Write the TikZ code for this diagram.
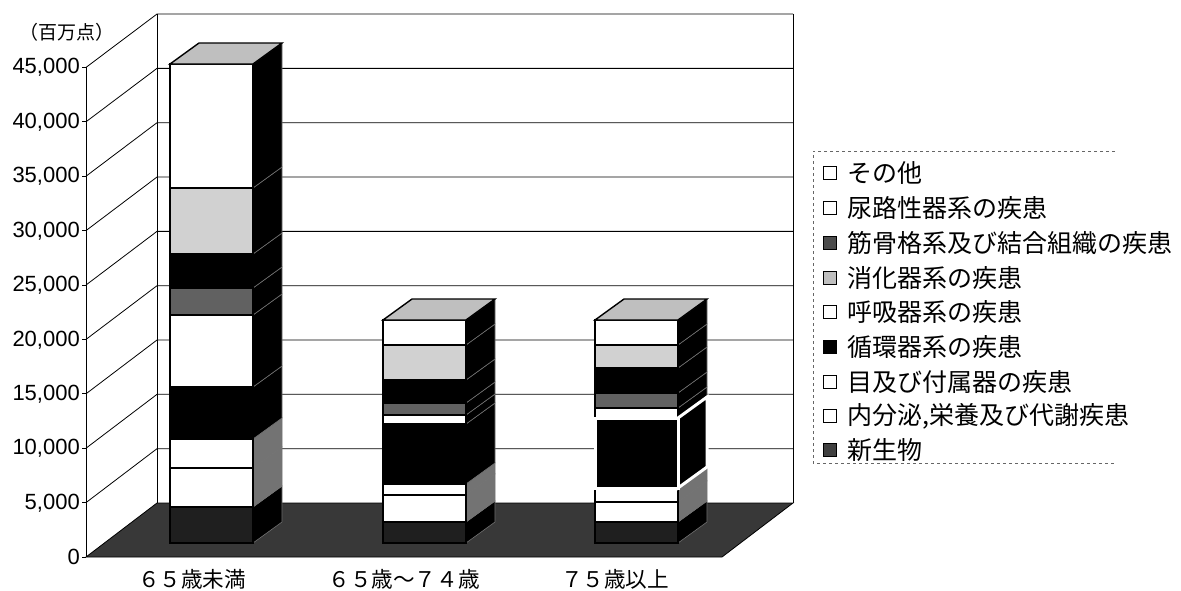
\documentclass[tikz,border=0pt]{standalone}
\usepackage{fontspec}
\setmainfont{Liberation Sans}
\newfontfamily\jpfont{Noto Sans CJK JP}
\usepackage{tikz}
\usetikzlibrary{positioning,calc}

% one segment of a bar: x, y bottom, y top, front style, side style
\newcommand{\barseg}[5]{%
  \draw[#5] (#1+83,#2) -- (#1+112,#2-21) -- (#1+112,#3-21) -- (#1+83,#3) -- cycle;
  \draw[#4] (#1,#2) rectangle (#1+83,#3);
}
% top face of a bar: x, y top
\newcommand{\bartop}[2]{%
  \draw[topface] (#1,#2) -- (#1+29,#2-21) -- (#1+112,#2-21) -- (#1+83,#2) -- cycle;
}

\begin{document}
\begin{tikzpicture}[
    x=1pt, y=-1pt,
    gridline/.style = {black, line width=0.8pt},
    floor/.style = {draw=black, line width=0.8pt, fill=black!78},
    segwhite/.style = {draw=black, line width=1.4pt, fill=white},
    segblack/.style = {draw=black, line width=1.4pt, fill=black},
    segdark/.style = {draw=black, line width=1.4pt, fill=black!88},
    seglight/.style = {draw=black, line width=1.4pt, fill=black!18},
    segdot/.style = {draw=black, line width=1.4pt, fill=black!62},
    segring/.style = {draw=white, line width=3pt, fill=black},
    sideblack/.style = {draw=black!55, line width=0.6pt, fill=black},
    sidegray/.style = {draw=black!55, line width=0.6pt, fill=black!55},
    sidering/.style = {draw=white, line width=3pt, fill=black},
    topface/.style = {draw=black, line width=1.4pt, fill=black!25},
    ylab/.style = {anchor=east, inner sep=0pt, font=\fontsize{22}{26}\selectfont},
    catlab/.style = {inner sep=0pt, font=\jpfont\fontsize{21.6}{26}\selectfont},
    swatch/.style = {draw=black, line width=1pt, minimum size=13pt, inner sep=0pt},
    legtext/.style = {anchor=west, inner sep=0pt, font=\jpfont\fontsize{25}{30}\selectfont}
]
    \useasboundingbox (0,0) rectangle (1181,590);

    % Floor
    \draw[floor] (86,557) -- (722,557) -- (793,503) -- (157,503) -- cycle;

    % Walls and grid
    \foreach \k in {1,...,9}
        \draw[gridline] (86,557-54.4*\k) -- (157,503-54.33*\k) -- (793,503-54.33*\k);
    \draw[gridline] (157,14) -- (157,503);
    \draw[gridline] (793,14) -- (793,503);
    \draw[gridline] (86,557) -- (86,67);
    \foreach \k in {0,...,9}
        \draw[gridline] (82,557-54.4*\k) -- (86,557-54.4*\k);

    % Unit
    \node[inner sep=0pt, font=\jpfont\fontsize{19}{22}\selectfont] (unit) at (67,32) {（百万点）};

    % Y axis labels
    \node[ylab] (y45) at (80,67) {45,000};
    \node[ylab] (y40) at (80,122) {40,000};
    \node[ylab] (y35) at (80,176) {35,000};
    \node[ylab] (y30) at (80,231) {30,000};
    \node[ylab] (y25) at (80,285) {25,000};
    \node[ylab] (y20) at (80,340) {20,000};
    \node[ylab] (y15) at (80,394) {15,000};
    \node[ylab] (y10) at (80,448) {10,000};
    \node[ylab] (y5) at (80,503) {5,000};
    \node[ylab] (y0) at (80,557) {0};

    % Bar 1: under 65
    \barseg{170}{543}{507}{segdark}{sideblack}
    \barseg{170}{507}{468}{segwhite}{sidegray}
    \barseg{170}{468}{439}{segwhite}{sidegray}
    \barseg{170}{439}{387}{segblack}{sideblack}
    \barseg{170}{387}{315}{segwhite}{sideblack}
    \barseg{170}{315}{288}{segdot}{sideblack}
    \barseg{170}{288}{254}{segblack}{sideblack}
    \barseg{170}{254}{188}{seglight}{sideblack}
    \barseg{170}{188}{64}{segwhite}{sideblack}
    \bartop{170}{64}

    % Bar 2: 65 to 74
    \barseg{383}{543}{522}{segdark}{sideblack}
    \barseg{383}{522}{495}{segwhite}{sidegray}
    \barseg{383}{495}{484}{segwhite}{sidegray}
    \barseg{383}{484}{424}{segblack}{sideblack}
    \barseg{383}{424}{415}{segwhite}{sideblack}
    \barseg{383}{415}{403}{segdot}{sideblack}
    \barseg{383}{403}{380}{segblack}{sideblack}
    \barseg{383}{380}{345}{seglight}{sideblack}
    \barseg{383}{345}{320}{segwhite}{sideblack}
    \bartop{383}{320}

    % Bar 3: 75 and over
    \barseg{595}{543}{522}{segdark}{sideblack}
    \barseg{595}{522}{502}{segwhite}{sidegray}
    \barseg{595}{502}{488}{segwhite}{sidegray}
    \barseg{595}{418}{408}{segwhite}{sideblack}
    \barseg{595}{408}{393}{segdot}{sideblack}
    \barseg{595}{393}{368}{segblack}{sideblack}
    \barseg{595}{368}{345}{seglight}{sideblack}
    \barseg{595}{345}{320}{segwhite}{sideblack}
    \barseg{595}{488}{418}{segring}{sidering}
    \bartop{595}{320}

    % Category labels
    \node[catlab] (cat1) at (192,579) {６５歳未満};
    \node[catlab] (cat2) at (404,579) {６５歳～７４歳};
    \node[catlab] (cat3) at (615,579) {７５歳以上};

    % Legend
    \draw[black!60, dashed, line width=0.6pt] (1115,151) -- (813,151) -- (813,463) -- (1115,463);
    \node[swatch, fill=white] (sw1) at (830,173) {};
    \node[legtext, right=10pt of sw1] (leg1) {その他};
    \node[swatch, fill=white] (sw2) at (830,208) {};
    \node[legtext, right=10pt of sw2] (leg2) {尿路性器系の疾患};
    \node[swatch, fill=black!70] (sw3) at (830,243) {};
    \node[legtext, right=10pt of sw3] (leg3) {筋骨格系及び結合組織の疾患};
    \node[swatch, fill=black!25] (sw4) at (830,278) {};
    \node[legtext, right=10pt of sw4] (leg4) {消化器系の疾患};
    \node[swatch, fill=white] (sw5) at (830,312) {};
    \node[legtext, right=10pt of sw5] (leg5) {呼吸器系の疾患};
    \node[swatch, fill=black] (sw6) at (830,347) {};
    \node[legtext, right=10pt of sw6] (leg6) {循環器系の疾患};
    \node[swatch, fill=white] (sw7) at (830,382) {};
    \node[legtext, right=10pt of sw7] (leg7) {目及び付属器の疾患};
    \node[swatch, fill=white] (sw8) at (830,416) {};
    \node[legtext, right=10pt of sw8] (leg8) {内分泌,栄養及び代謝疾患};
    \node[swatch, fill=black!75] (sw9) at (830,450) {};
    \node[legtext, right=10pt of sw9] (leg9) {新生物};

\end{tikzpicture}
\end{document}
